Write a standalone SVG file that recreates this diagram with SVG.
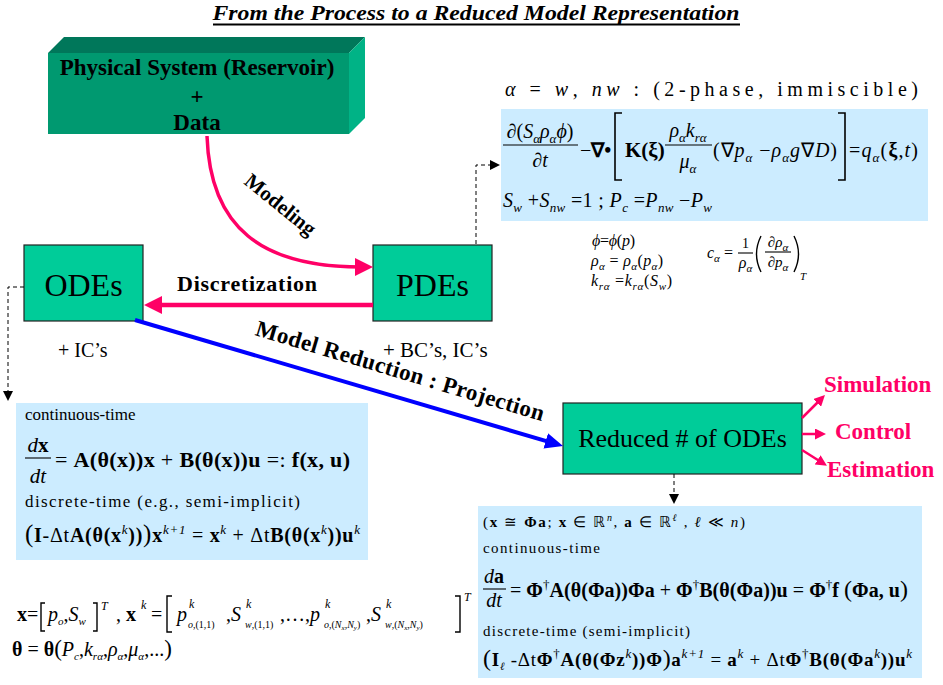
<svg xmlns="http://www.w3.org/2000/svg" width="943" height="685" viewBox="0 0 943 685" font-family="'Liberation Serif', serif">
<defs>
<style>
text{font-family:'Liberation Serif',serif;fill:#000}
.b{font-weight:bold}
.i{font-style:italic}
.node{fill:#00CC99;stroke:#222;stroke-width:1.2}
.eqbox{fill:#CCECFF}
.pk{stroke:#FF0066;fill:none}
.dash{stroke:#000;stroke-width:1;stroke-dasharray:4 3;fill:none}
.sb{font-size:13px;baseline-shift:-5px}
.sp{font-size:13px;baseline-shift:8px}
.sbs{font-size:11px;baseline-shift:-4px}
.sps{font-size:10px;baseline-shift:6px}
.fl{stroke:#000;stroke-width:1.1}
.br{stroke:#000;stroke-width:1.4;fill:none}
.lbl{font-weight:bold;fill:#FF0066;font-size:23px}
</style>
<marker id="ap" viewBox="0 0 18 18" refX="6" refY="9" markerWidth="18" markerHeight="18" markerUnits="userSpaceOnUse" orient="auto"><path d="M0,0 L18,9 L0,18 z" fill="#FF0066"/></marker>
<marker id="ab" viewBox="0 0 18 16" refX="6" refY="8" markerWidth="18" markerHeight="16" markerUnits="userSpaceOnUse" orient="auto"><path d="M0,0 L18,8 L0,16 z" fill="#0000FF"/></marker>
<marker id="as" viewBox="0 0 11 11" refX="4" refY="5.5" markerWidth="11" markerHeight="11" markerUnits="userSpaceOnUse" orient="auto"><path d="M0,0 L11,5.5 L0,11 z" fill="#FF0066"/></marker>
<marker id="ak" viewBox="0 0 10 10" refX="2" refY="5" markerWidth="10" markerHeight="10" markerUnits="userSpaceOnUse" orient="auto"><path d="M0,0 L10,5 L0,10 z" fill="#000"/></marker>
</defs>

<g id="title">
<text x="476" y="20" text-anchor="middle" class="b i" font-size="21" textLength="527" lengthAdjust="spacingAndGlyphs">From the Process to a Reduced Model Representation</text>
<line x1="213" y1="24.5" x2="740" y2="24.5" stroke="#000" stroke-width="1.8"/>
</g>

<g id="physical-system">
<polygon points="48,53 64,37 365,37 349,53" fill="#00775A"/>
<polygon points="349,53 365,37 365,118 349,134" fill="#00B386"/>
<rect x="48" y="53" width="301" height="81" fill="#009970"/>
<text x="197" y="75" text-anchor="middle" class="b" font-size="23">Physical System (Reservoir)</text>
<text x="197" y="104" text-anchor="middle" class="b" font-size="23">+</text>
<text x="197" y="130" text-anchor="middle" class="b" font-size="23">Data</text>
</g>

<g id="odes">
<rect class="node" x="24" y="245" width="119" height="76"/>
<text x="83.5" y="296" text-anchor="middle" font-size="32">ODEs</text>
<text x="58" y="357" font-size="20">+ IC’s</text>
</g>

<g id="pdes">
<rect class="node" x="373" y="245" width="119" height="76"/>
<text x="432.5" y="296" text-anchor="middle" font-size="32">PDEs</text>
<text x="383" y="357" font-size="21">+ BC’s, IC’s</text>
</g>

<g id="reduced-odes">
<rect class="node" x="563" y="403" width="239" height="71"/>
<text x="682.5" y="447" text-anchor="middle" font-size="26">Reduced # of ODEs</text>
</g>

<g id="outputs">
<text class="lbl" x="824" y="392">Simulation</text>
<text class="lbl" x="835" y="439">Control</text>
<text class="lbl" x="827" y="477">Estimation</text>
</g>

<g id="connectors">
<path class="pk" stroke-width="3.5" d="M207,136 C210,228 262,267 361,267" marker-end="url(#ap)"/>
<text transform="translate(276,210) rotate(39)" text-anchor="middle" class="b" font-size="21">Modeling</text>
<path class="pk" stroke-width="4.5" d="M373,305 L156,305" marker-end="url(#ap)"/>
<text x="177" y="291" class="b" font-size="22" textLength="140">Discretization</text>
<path d="M135,320 L551.5,442.6" stroke="#0000FF" stroke-width="4" fill="none" marker-end="url(#ab)"/>
<text transform="translate(398,378) rotate(16.7)" text-anchor="middle" class="b" font-size="23" textLength="300">Model Reduction : Projection</text>
<path class="pk" stroke-width="2.5" d="M802,418 L820,400" marker-end="url(#as)"/>
<path class="pk" stroke-width="2.5" d="M802,434 L819,434" marker-end="url(#as)"/>
<path class="pk" stroke-width="2.5" d="M802,450 L821,462" marker-end="url(#as)"/>
<path class="dash" d="M476,244 V165 H492" marker-end="url(#ak)"/>
<path class="dash" d="M24,287 H8 V393" marker-end="url(#ak)"/>
<path class="dash" d="M674,474 V496" marker-end="url(#ak)"/>
</g>

<g id="pde-equations">
<text x="505" y="96" font-size="20" textLength="413"><tspan class="i">α</tspan> = <tspan class="i">w</tspan>, <tspan class="i">nw</tspan> :  (2-phase, immiscible)</text>
<rect class="eqbox" x="501" y="109" width="427" height="112"/>
<text x="540" y="138" text-anchor="middle" font-size="20">∂(<tspan class="i">S</tspan><tspan class="i sb">α</tspan><tspan class="i">ρ</tspan><tspan class="i sb">α</tspan><tspan class="i">ϕ</tspan>)</text>
<line class="fl" x1="503" y1="145" x2="578" y2="145"/>
<text x="540" y="167" text-anchor="middle" font-size="20">∂<tspan class="i">t</tspan></text>
<text x="580" y="157" font-size="20">−<tspan class="b">∇•</tspan></text>
<path d="M622,113 H615 V180 H622" stroke="#000" stroke-width="1.6" fill="none"/>
<text x="625" y="157" font-size="21" class="b">K(ξ)</text>
<text x="688" y="137" text-anchor="middle" font-size="20"><tspan class="i">ρ</tspan><tspan class="i sb">α</tspan><tspan class="i">k</tspan><tspan class="i sb">rα</tspan></text>
<line class="fl" x1="665" y1="145" x2="712" y2="145"/>
<text x="688" y="168" text-anchor="middle" font-size="20"><tspan class="i">μ</tspan><tspan class="i sb">α</tspan></text>
<text x="713" y="157" font-size="20" textLength="124">(∇<tspan class="i">p</tspan><tspan class="i sb">α</tspan> −<tspan class="i">ρ</tspan><tspan class="i sb">α</tspan><tspan class="i">g</tspan>∇<tspan class="i">D</tspan>)</text>
<path d="M838,113 H845 V180 H838" stroke="#000" stroke-width="1.6" fill="none"/>
<text x="849" y="157" font-size="20" textLength="69">=<tspan class="i">q</tspan><tspan class="i sb">α</tspan>(<tspan class="b">ξ</tspan>,<tspan class="i">t</tspan>)</text>
<text x="503" y="207" font-size="20" textLength="209"><tspan class="i">S</tspan><tspan class="i sb">w</tspan> +<tspan class="i">S</tspan><tspan class="i sb">nw</tspan> =1 ; <tspan class="i">P</tspan><tspan class="i sb">c</tspan> =<tspan class="i">P</tspan><tspan class="i sb">nw</tspan> −<tspan class="i">P</tspan><tspan class="i sb">w</tspan></text>
<text x="592" y="246" font-size="16" textLength="43"><tspan class="i">ϕ</tspan>=<tspan class="i">ϕ</tspan>(<tspan class="i">p</tspan>)</text>
<text x="591" y="266" font-size="16" textLength="72"><tspan class="i">ρ</tspan><tspan class="i sbs">α</tspan> = <tspan class="i">ρ</tspan><tspan class="i sbs">α</tspan>(<tspan class="i">p</tspan><tspan class="i sbs">α</tspan>)</text>
<text x="591" y="286" font-size="16" textLength="81"><tspan class="i">k</tspan><tspan class="i sbs">rα</tspan> =<tspan class="i">k</tspan><tspan class="i sbs">rα</tspan>(<tspan class="i">S</tspan><tspan class="i sbs">w</tspan>)</text>
<text x="707" y="258" font-size="16"><tspan class="i">c</tspan><tspan class="i sbs">α</tspan> =</text>
<text x="745.5" y="248" text-anchor="middle" font-size="14">1</text>
<line class="fl" x1="738" y1="253" x2="753" y2="253" stroke-width="0.9"/>
<text x="745.5" y="268" text-anchor="middle" font-size="16"><tspan class="i">ρ</tspan><tspan class="i sbs">α</tspan></text>
<path class="br" d="M761,236 Q752,254 761,272"/>
<path class="br" d="M794,236 Q803,254 794,272"/>
<text x="778" y="247" text-anchor="middle" font-size="15">∂<tspan class="i">ρ</tspan><tspan class="i sbs">α</tspan></text>
<line class="fl" x1="765" y1="252" x2="791" y2="252" stroke-width="0.9"/>
<text x="778" y="267" text-anchor="middle" font-size="15">∂<tspan class="i">p</tspan><tspan class="i sbs">α</tspan></text>
<text x="800" y="280" font-size="11" class="i">T</text>
</g>

<g id="ode-equations">
<rect class="eqbox" x="16" y="403" width="352" height="157"/>
<text x="25" y="420" font-size="17">continuous-time</text>
<text x="38" y="452" text-anchor="middle" font-size="21"><tspan class="i">d</tspan><tspan class="b">x</tspan></text>
<line class="fl" x1="25" y1="458" x2="51" y2="458"/>
<text x="38" y="483" text-anchor="middle" font-size="21" class="i">dt</text>
<text x="55" y="467" font-size="22" textLength="295">= <tspan class="b">A(θ(x))x</tspan> + <tspan class="b">B(θ(x))u</tspan> =: <tspan class="b">f(x, u)</tspan></text>
<text x="25" y="507" font-size="17" textLength="275">discrete-time (e.g., semi-implicit)</text>
<text x="25" y="542" font-size="20" textLength="335"><tspan font-size="25">(</tspan><tspan class="b">I</tspan>-Δt<tspan class="b">A(θ(x</tspan><tspan class="i sp">k</tspan><tspan class="b">))</tspan><tspan font-size="25">)</tspan><tspan class="b">x</tspan><tspan class="i sp">k+1</tspan> = <tspan class="b">x</tspan><tspan class="i sp">k</tspan> + Δt<tspan class="b">B(θ(x</tspan><tspan class="i sp">k</tspan><tspan class="b">))u</tspan><tspan class="i sp">k</tspan></text>
</g>

<g id="state-definitions">
<text x="17" y="621" font-size="20" class="b">x</text>
<text x="27" y="621" font-size="20">=</text>
<path class="br" d="M45,603 H41 V631 H45"/>
<text x="48" y="621" font-size="20"><tspan class="i">p</tspan><tspan class="i sbs">o</tspan>,<tspan class="i">S</tspan><tspan class="i sbs">w</tspan></text>
<path class="br" d="M93,603 H97 V631 H93"/>
<text x="101" y="610" font-size="12" class="i">T</text>
<text x="116" y="621" font-size="20">,  <tspan class="b">x</tspan></text>
<text x="141" y="609" font-size="12" class="i">k</text>
<text x="151" y="621" font-size="20">=</text>
<path class="br" d="M172,596 H167 V632 H172"/>
<text x="177" y="621" font-size="20" class="i">p</text>
<text x="189" y="608" font-size="12" class="i">k</text>
<text x="188" y="628" font-size="10"><tspan class="i">o</tspan>,(1,1)</text>
<text x="226" y="621" font-size="20">,<tspan class="i">S</tspan></text>
<text x="246" y="608" font-size="12" class="i">k</text>
<text x="245" y="628" font-size="10"><tspan class="i">w</tspan>,(1,1)</text>
<text x="280" y="621" font-size="20">,…,<tspan class="i">p</tspan></text>
<text x="325" y="608" font-size="12" class="i">k</text>
<text x="324" y="628" font-size="10"><tspan class="i">o</tspan>,(<tspan class="i">N</tspan><tspan class="i" font-size="7" baseline-shift="-2">x</tspan>,<tspan class="i">N</tspan><tspan class="i" font-size="7" baseline-shift="-2">y</tspan>)</text>
<text x="366" y="621" font-size="20">,<tspan class="i">S</tspan></text>
<text x="386" y="608" font-size="12" class="i">k</text>
<text x="385" y="628" font-size="10"><tspan class="i">w</tspan>,(<tspan class="i">N</tspan><tspan class="i" font-size="7" baseline-shift="-2">x</tspan>,<tspan class="i">N</tspan><tspan class="i" font-size="7" baseline-shift="-2">y</tspan>)</text>
<path class="br" d="M455,596 H460 V632 H455"/>
<text x="464" y="601" font-size="12" class="i">T</text>
<text x="12" y="656" font-size="20"><tspan class="b">θ</tspan> = <tspan class="b">θ</tspan><tspan font-size="23">(</tspan><tspan class="i">P</tspan><tspan class="i sbs">c</tspan>,<tspan class="i">k</tspan><tspan class="i sbs">rα</tspan>,<tspan class="i">ρ</tspan><tspan class="i sbs">α</tspan>,<tspan class="i">μ</tspan><tspan class="i sbs">α</tspan>,...<tspan font-size="23">)</tspan></text>
</g>

<g id="reduced-equations">
<rect class="eqbox" x="478" y="506" width="444" height="172"/>
<text x="483" y="527" font-size="15" textLength="262">(<tspan class="b">x</tspan> ≅ <tspan class="b">Φa</tspan>;  <tspan class="b">x</tspan> ∈ ℝ<tspan class="i sps">n</tspan>,  <tspan class="b">a</tspan> ∈ ℝ<tspan class="i sps">ℓ</tspan> , <tspan class="i">ℓ</tspan> ≪ <tspan class="i">n</tspan>)</text>
<text x="483" y="553" font-size="15" textLength="117">continuous-time</text>
<text x="494" y="583" text-anchor="middle" font-size="20"><tspan class="i">d</tspan><tspan class="b">a</tspan></text>
<line class="fl" x1="483" y1="589" x2="506" y2="589"/>
<text x="494" y="607" text-anchor="middle" font-size="20" class="i">dt</text>
<text x="510" y="597" font-size="20" textLength="398">= <tspan class="b">Φ</tspan><tspan class="sp">†</tspan><tspan class="b">A(θ(Φa))Φa</tspan> + <tspan class="b">Φ</tspan><tspan class="sp">†</tspan><tspan class="b">B(θ(Φa))u</tspan> = <tspan class="b">Φ</tspan><tspan class="sp">†</tspan><tspan class="b">f</tspan> <tspan font-size="24">(</tspan><tspan class="b">Φa, u</tspan><tspan font-size="24">)</tspan></text>
<text x="483" y="636" font-size="15" textLength="207">discrete-time (semi-implicit)</text>
<text x="483" y="666" font-size="19" textLength="429"><tspan font-size="24">(</tspan><tspan class="b">I</tspan><tspan class="i sbs">ℓ</tspan> -Δt<tspan class="b">Φ</tspan><tspan class="sp">†</tspan><tspan class="b">A(θ(Φz</tspan><tspan class="i sp">k</tspan><tspan class="b">))Φ</tspan><tspan font-size="24">)</tspan><tspan class="b">a</tspan><tspan class="i sp">k+1</tspan> = <tspan class="b">a</tspan><tspan class="i sp">k</tspan> + Δt<tspan class="b">Φ</tspan><tspan class="sp">†</tspan><tspan class="b">B(θ(Φa</tspan><tspan class="i sp">k</tspan><tspan class="b">))u</tspan><tspan class="i sp">k</tspan></text>
</g>
</svg>
